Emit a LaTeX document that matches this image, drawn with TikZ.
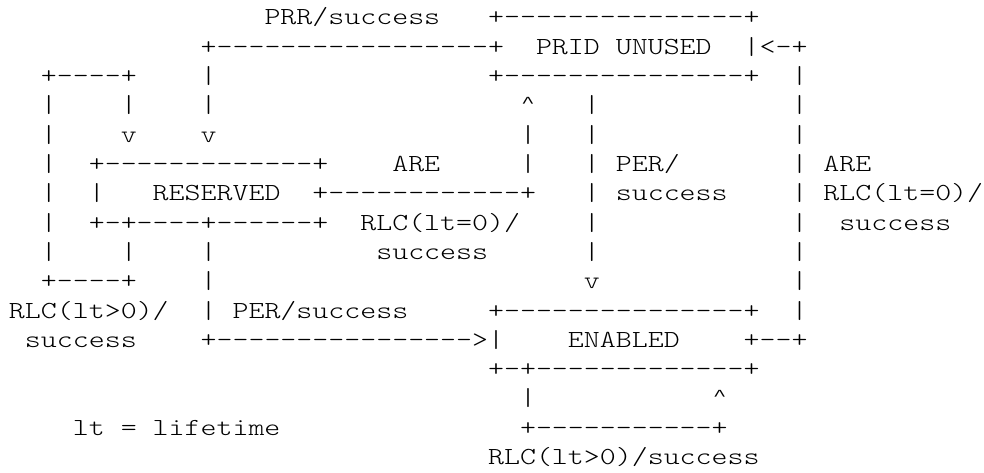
\documentclass[tikz,border=0pt]{standalone}
\usepackage{graphicx}
\usepackage{fontspec}
\newfontfamily\asciifam{lmmonolt10-regular.otf}
\newfontfamily\caretfam{Liberation Mono}
\newlength\cw
\ExplSyntaxOn
\cs_new:Npn \asciidashes #1 { \prg_replicate:nn {#1} {-} }
\ExplSyntaxOff
\newcommand\dsh[1]{\asciidashes{#1}}
\newcommand\gp[1]{\hspace*{#1\cw}}
\newcommand\asciifont{\fontsize{24.5}{29.3}\selectfont\asciifam}
% small caret like the reference
\newcommand\crt{\makebox[\cw][c]{\raisebox{5.6pt}{\scalebox{\crx}[0.58]{\caretfam\fontsize{26.6}{29.3}\selectfont\textasciicircum}}}}
\newcommand\asciiline[2]{\node[asc] (l#1) at (9,{447-29.3*(#1-1)}) {\scalebox{\xs}[1]{#2}};}
\begin{document}
\settowidth\cw{\asciifont 0}%
\pgfmathsetmacro\xs{15.97/\cw}%
\pgfmathsetmacro\crx{0.83/\xs}%
\begin{tikzpicture}[x=1pt,y=1pt,
  asc/.style={anchor=base west, inner sep=0pt, outer sep=0pt, font=\asciifont, text=black}]
\fill[white] (0,0) rectangle (984,472);
\useasboundingbox (0,0) rectangle (984,472);
\asciiline{1}{\gp{16}PRR/success\gp{3}+\dsh{15}+}
\asciiline{2}{\gp{12}+\dsh{17}+\gp{2}PRID\gp{1}UNUSED\gp{2}|<-+}
\asciiline{3}{\gp{2}+\dsh{4}+\gp{4}|\gp{17}+\dsh{15}+\gp{2}|}
\asciiline{4}{\gp{2}|\gp{4}|\gp{4}|\gp{19}\crt\gp{3}|\gp{12}|}
\asciiline{5}{\gp{2}|\gp{4}v\gp{4}v\gp{19}|\gp{3}|\gp{12}|}
\asciiline{6}{\gp{2}|\gp{2}+\dsh{13}+\gp{4}ARE\gp{5}|\gp{3}|\gp{1}PER/\gp{7}|\gp{1}ARE}
\asciiline{7}{\gp{2}|\gp{2}|\gp{3}RESERVED\gp{2}+\dsh{12}+\gp{3}|\gp{1}success\gp{4}|\gp{1}RLC(lt=0)/}
\asciiline{8}{\gp{2}|\gp{2}+\dsh{1}+\dsh{4}+\dsh{6}+\gp{2}RLC(lt=0)/\gp{4}|\gp{12}|\gp{2}success}
\asciiline{9}{\gp{2}|\gp{4}|\gp{4}|\gp{10}success\gp{6}|\gp{12}|}
\asciiline{10}{\gp{2}+\dsh{4}+\gp{4}|\gp{23}v\gp{12}|}
\asciiline{11}{RLC(lt>0)/\gp{2}|\gp{1}PER/success\gp{5}+\dsh{15}+\gp{2}|}
\asciiline{12}{\gp{1}success\gp{4}+\dsh{16}>|\gp{4}ENABLED\gp{4}+\dsh{2}+}
\asciiline{13}{\gp{30}+\dsh{1}+\dsh{13}+}
\asciiline{14}{\gp{32}|\gp{11}\crt}
\asciiline{15}{\gp{4}lt\gp{1}=\gp{1}lifetime\gp{15}+\dsh{11}+}
\asciiline{16}{\gp{30}RLC(lt>0)/success}
\end{tikzpicture}
\end{document}
